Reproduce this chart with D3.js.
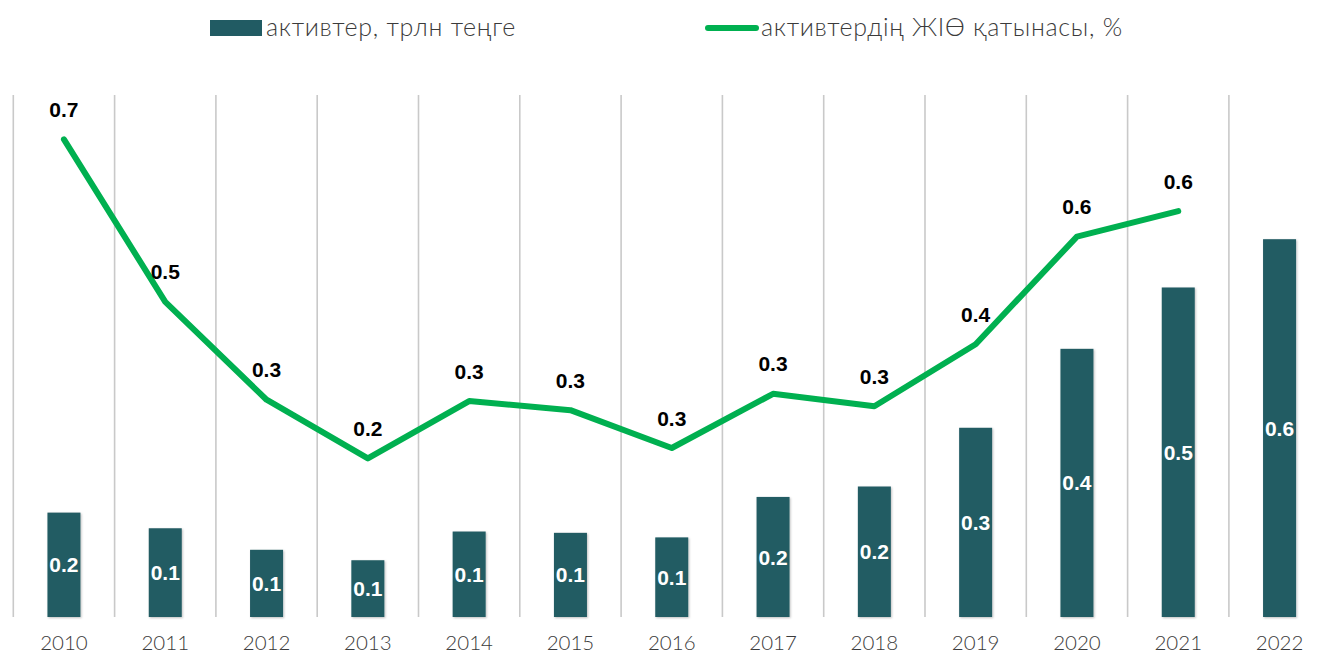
<!DOCTYPE html>
<html>
<head>
<meta charset="utf-8">
<script src="https://cdn.jsdelivr.net/npm/d3@7"></script>
<style>
  html, body { margin: 0; padding: 0; background: #fff; }
  svg { display: block; }
</style>
</head>
<body>
<svg id="chart" width="1323" height="655"></svg>
<script>
// ---- data ----
const years = ["2010","2011","2012","2013","2014","2015","2016","2017","2018","2019","2020","2021","2022"];
const assets = [0.160, 0.136, 0.103, 0.087, 0.131, 0.129, 0.122, 0.184, 0.200, 0.290, 0.411, 0.505, 0.579];
const gdpShare = [0.732, 0.483, 0.333, 0.243, 0.331, 0.317, 0.259, 0.342, 0.323, 0.418, 0.583, 0.622, null];
const seriesNames = ["активтер, трлн теңге", "активтердің ЖІӨ қатынасы, %"];

(function () {
// ---- layout ----
const plotLeft = 13.3, bandW = 101.3;
const plotTop = 95, plotBottom = 617;
const barColor = "#215B63", lineColor = "#00B050";

const svg = d3.select("#chart");

const x = d3.scaleBand().domain(years).range([plotLeft, plotLeft + bandW * years.length]).padding(0);
const yBar = d3.scaleLinear().domain([0, 0.8]).range([plotBottom, plotTop]);
const yLine = d3.scaleLinear().domain([0, 0.8]).range([plotBottom, plotTop]);
const fmt = d3.format(".1f");

// drop shadow for bars
const defs = svg.append("defs");
const f = defs.append("filter").attr("id", "sh").attr("x", "-20%").attr("y", "-20%").attr("width", "150%").attr("height", "150%");
f.append("feDropShadow").attr("dx", 1).attr("dy", 1).attr("stdDeviation", 1.2).attr("flood-color", "#000").attr("flood-opacity", 0.25);

// vertical gridlines (category boundaries)
const bounds = years.map(d => x(d)).concat([x(years[years.length - 1]) + x.bandwidth()]);
svg.append("g").selectAll("line").data(bounds).join("line")
  .attr("x1", d => d).attr("x2", d => d)
  .attr("y1", plotTop).attr("y2", plotBottom)
  .attr("stroke", "#c9c9c9").attr("stroke-width", 1.6);

// x axis labels
const xAxis = d3.axisBottom(x).tickSize(0).tickPadding(0);
const gx = svg.append("g").attr("transform", `translate(0,${plotBottom})`).call(xAxis);
gx.select(".domain").remove();
gx.selectAll("text")
  .attr("dy", 0).attr("y", 33)
  .style("font-family", "Lato, 'Open Sans', sans-serif")
  .style("font-weight", 300)
  .style("font-size", "20.5px")
  .attr("fill", "#3b3b3b");

// bars
const barW = 33;
svg.append("g").selectAll("rect").data(assets).join("rect")
  .attr("x", (d, i) => x(years[i]) + x.bandwidth() / 2 - barW / 2)
  .attr("y", d => yBar(d))
  .attr("width", barW)
  .attr("height", d => plotBottom - yBar(d))
  .attr("fill", barColor)
  .attr("filter", "url(#sh)");

// bar labels
svg.append("g").selectAll("text").data(assets).join("text")
  .attr("x", (d, i) => x(years[i]) + x.bandwidth() / 2)
  .attr("y", d => (yBar(d) + plotBottom) / 2)
  .attr("dy", "0.36em")
  .attr("text-anchor", "middle")
  .style("font-family", "'Liberation Sans', Arial, sans-serif")
  .style("font-weight", "bold")
  .style("font-size", "21px")
  .attr("fill", "#ffffff")
  .text(d => fmt(d));

// line
const linePts = gdpShare.map((v, i) => ({ y: years[i], v })).filter(d => d.v !== null);
const line = d3.line().x(d => x(d.y) + x.bandwidth() / 2).y(d => yLine(d.v));
svg.append("path").datum(linePts)
  .attr("d", line)
  .attr("fill", "none")
  .attr("stroke", lineColor)
  .attr("stroke-width", 6)
  .attr("stroke-linejoin", "round")
  .attr("stroke-linecap", "round");

// line labels
svg.append("g").selectAll("text").data(linePts).join("text")
  .attr("x", d => x(d.y) + x.bandwidth() / 2)
  .attr("y", d => yLine(d.v) - 30)
  .attr("dy", "0.36em")
  .attr("text-anchor", "middle")
  .style("font-family", "'Liberation Sans', Arial, sans-serif")
  .style("font-weight", "bold")
  .style("font-size", "21px")
  .attr("fill", "#000000")
  .text(d => fmt(d.v));

// legend
const lg = svg.append("g");
const legFont = sel => sel
  .style("font-family", "Lato, 'Open Sans', sans-serif").style("font-weight", 300)
  .style("font-size", "25px").style("letter-spacing", "0.7px").attr("fill", "#3b3b3b");
lg.append("rect").attr("x", 210).attr("y", 20).attr("width", 52).attr("height", 16).attr("fill", barColor);
lg.append("text").attr("x", 266).attr("y", 36).call(legFont).text(seriesNames[0]);
lg.append("line").attr("x1", 708).attr("x2", 756).attr("y1", 28).attr("y2", 28)
  .attr("stroke", lineColor).attr("stroke-width", 6).attr("stroke-linecap", "round");
lg.append("text").attr("x", 761).attr("y", 36).call(legFont).text(seriesNames[1]);
})();
</script>
</body>
</html>
